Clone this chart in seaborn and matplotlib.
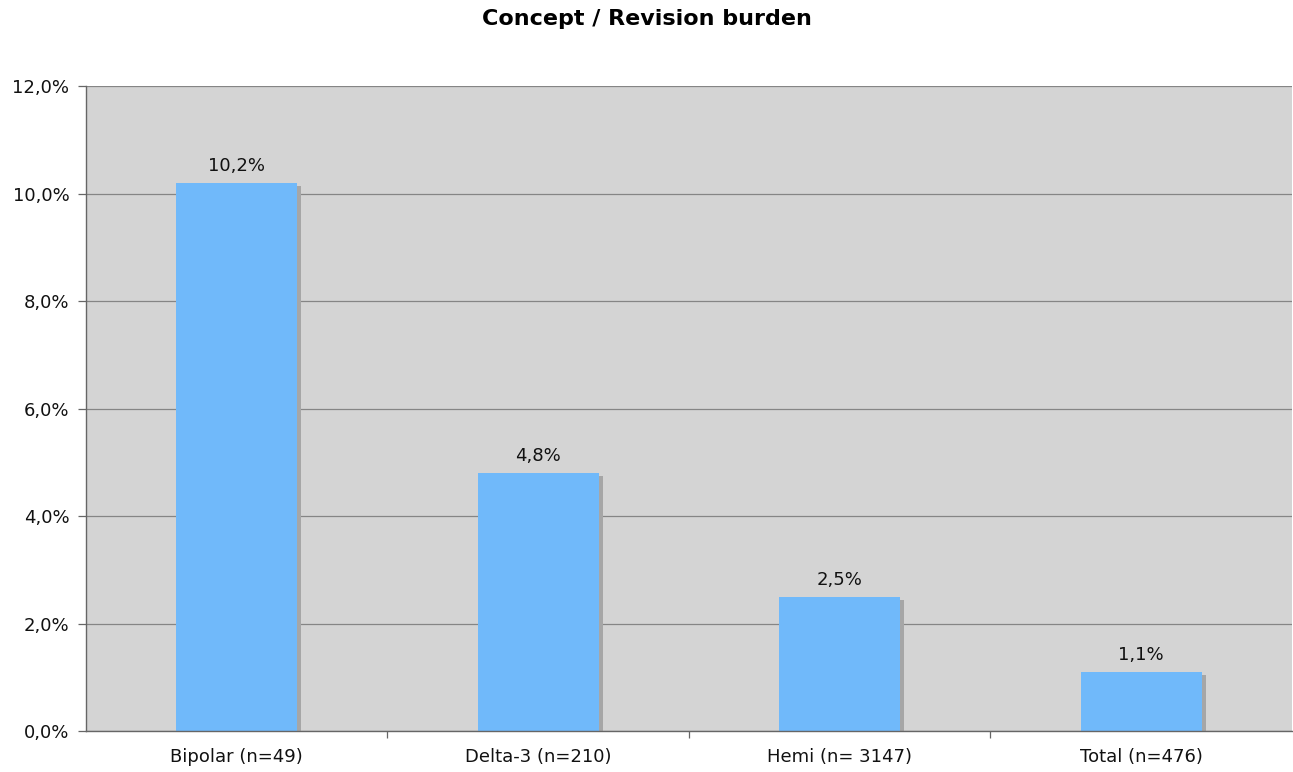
import matplotlib
matplotlib.use("Agg")
import matplotlib.pyplot as plt
import matplotlib.patheffects as pe
from matplotlib.ticker import FuncFormatter, FixedLocator
import seaborn as sns
import pandas as pd

categories = ["Bipolar (n=49)", "Delta-3 (n=210)", "Hemi (n= 3147)", "Total (n=476)"]
burden_pct = [10.2, 4.8, 2.5, 1.1]
y_ticks = [0, 2, 4, 6, 8, 10, 12]

df = pd.DataFrame({"concept": categories, "burden": burden_pct})

sns.set_theme(style="white")
plt.rcParams["font.family"] = ["DejaVu Sans"]

fig = plt.figure(figsize=(12.93, 7.72), dpi=100)
ax = fig.add_axes([0.0665, 0.0531, 0.9327, 0.8355])
ax.set_facecolor("#d4d4d4")

sns.barplot(data=df, x="concept", y="burden", color="#70b9fa", saturation=1,
            width=0.4, ax=ax, zorder=3)

for bar in ax.patches:
    bar.set_edgecolor("none")
    bar.set_path_effects([
        pe.SimplePatchShadow(offset=(3, -2.3), shadow_rgbFace="#a6a6a6", alpha=1),
        pe.Normal(),
    ])

for bar, v in zip(ax.patches, burden_pct):
    ax.text(bar.get_x() + bar.get_width() / 2, v + 0.15,
            f"{v:.1f}%".replace(".", ","), ha="center", va="bottom",
            fontsize=13, color="#111111", zorder=5)

ax.set_xlim(-0.5, len(categories) - 0.5)
ax.set_ylim(0, 12)
ax.set_yticks(y_ticks)
ax.yaxis.set_major_formatter(FuncFormatter(lambda v, _: f"{v:.1f}%".replace(".", ",")))
ax.yaxis.grid(True, color="#858585", linewidth=0.9, zorder=1)
ax.set_axisbelow(True)

# category labels centred, tick marks on category boundaries
ax.xaxis.set_major_locator(FixedLocator([0.5, 1.5, 2.5]))
ax.xaxis.set_minor_locator(FixedLocator(range(len(categories))))
ax.set_xticklabels([], minor=False)
ax.set_xticklabels(categories, minor=True)
ax.tick_params(axis="x", which="major", length=5, width=0.9, color="#666666", direction="out", bottom=True)
ax.tick_params(axis="x", which="minor", length=0, pad=12, labelsize=13, labelcolor="#111111")
ax.tick_params(axis="y", length=6, width=0.9, color="#666666", direction="out", left=True,
               labelsize=13, labelcolor="#111111", pad=6)

for side in ["top", "right"]:
    ax.spines[side].set_visible(False)
for side in ["left", "bottom"]:
    ax.spines[side].set_color("#666666")
    ax.spines[side].set_linewidth(1.0)
    ax.spines[side].set_zorder(6)

ax.set_xlabel("")
ax.set_ylabel("")
fig.suptitle("Concept / Revision burden", fontsize=16, fontweight="bold", color="black", y=0.988)

fig.savefig("out.png", dpi=100)
